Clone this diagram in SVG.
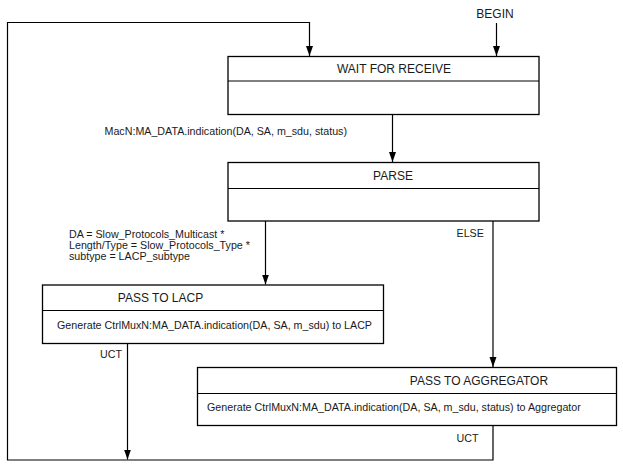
<svg xmlns="http://www.w3.org/2000/svg" width="623" height="471" viewBox="0 0 623 471">
  <style>
    .box { fill: #ffffff; stroke: #000000; stroke-width: 1.3; }
    .div { stroke: #000000; stroke-width: 1.1; }
    .wire { fill: none; stroke: #000000; stroke-width: 1.2; }
    .title { font-family: "Liberation Sans", Arial, sans-serif; font-size: 12px; fill: #1a1a1a; }
    .lbl { font-family: "Liberation Sans", Arial, sans-serif; font-size: 10.7px; fill: #1a1a1a; }
  </style>
  <defs>
    <marker id="arrow" viewBox="0 0 10 10" refX="10" refY="5" markerWidth="10" markerHeight="10" markerUnits="userSpaceOnUse" orient="auto">
      <path d="M0,1.5 L10,5 L0,8.5 Z" fill="#000000"/>
    </marker>
  </defs>

  <rect width="623" height="471" fill="#ffffff"/>

  <!-- transitions -->
  <g id="connectors">
    <path class="wire" d="M496.5,23 V56" marker-end="url(#arrow)"/>
    <path class="wire" d="M493,426 V460 H7.5 V22.5 H309.5 V56" marker-end="url(#arrow)"/>
    <path class="wire" d="M392.5,115 V162" marker-end="url(#arrow)"/>
    <path class="wire" d="M265.5,221 V284.5" marker-end="url(#arrow)"/>
    <path class="wire" d="M493,221 V367" marker-end="url(#arrow)"/>
    <path class="wire" d="M127.5,344 V459.5" marker-end="url(#arrow)"/>
    <text class="title" x="495" y="18" text-anchor="middle">BEGIN</text>
    <text class="lbl" x="104.5" y="135">MacN:MA_DATA.indication(DA, SA, m_sdu, status)</text>
    <text class="lbl" x="69" y="238">DA = Slow_Protocols_Multicast *</text>
    <text class="lbl" x="69" y="249">Length/Type = Slow_Protocols_Type *</text>
    <text class="lbl" x="69" y="260">subtype = LACP_subtype</text>
    <text class="lbl" x="456.5" y="237">ELSE</text>
    <text class="lbl" x="100" y="358">UCT</text>
    <text class="lbl" x="456.5" y="442">UCT</text>
  </g>

  <g id="wait-for-receive">
    <rect class="box" x="228" y="56.5" width="311" height="58"/>
    <line class="div" x1="228" y1="81" x2="539" y2="81"/>
    <text class="title" x="394" y="73" text-anchor="middle">WAIT FOR RECEIVE</text>
  </g>

  <g id="parse">
    <rect class="box" x="228" y="162.5" width="311" height="58.5"/>
    <line class="div" x1="228" y1="188.5" x2="539" y2="188.5"/>
    <text class="title" x="393" y="180" text-anchor="middle">PARSE</text>
  </g>

  <g id="pass-to-lacp">
    <rect class="box" x="42.5" y="285" width="341" height="58.5"/>
    <line class="div" x1="42.5" y1="310.5" x2="383.5" y2="310.5"/>
    <text class="title" x="160.5" y="302" text-anchor="middle">PASS TO LACP</text>
    <text class="lbl" x="214.5" y="329" text-anchor="middle">Generate CtrlMuxN:MA_DATA.indication(DA, SA, m_sdu) to LACP</text>
  </g>

  <g id="pass-to-aggregator">
    <rect class="box" x="197.5" y="367.5" width="419" height="58"/>
    <line class="div" x1="197.5" y1="393.5" x2="616.5" y2="393.5"/>
    <text class="title" x="479" y="385" text-anchor="middle">PASS TO AGGREGATOR</text>
    <text class="lbl" x="207" y="411">Generate CtrlMuxN:MA_DATA.indication(DA, SA, m_sdu, status) to Aggregator</text>
  </g>
</svg>
